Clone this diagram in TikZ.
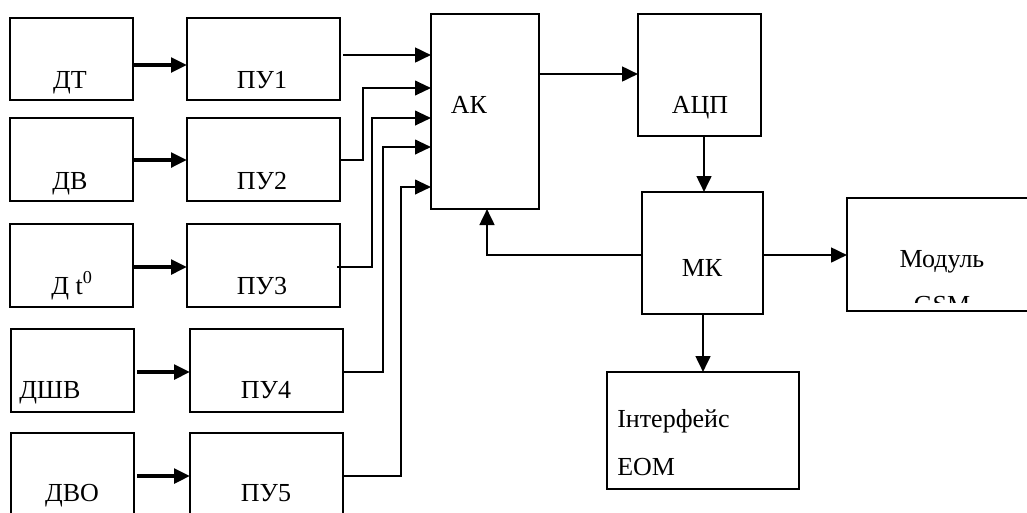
\documentclass[tikz,border=0pt]{standalone}
\usepackage{fontspec}
\setmainfont{Liberation Serif}
\usetikzlibrary{arrows.meta}
\begin{document}
\begin{tikzpicture}[x=0.75pt,y=-0.75pt,
  box/.style={draw,line width=1.8pt,inner sep=0pt,outer sep=0pt},
  lbl/.style={inner sep=0pt,font=\fontsize{19.5pt}{23pt}\selectfont},
  arr/.style={line width=2pt,-{Triangle[length=12pt,width=11pt]}},
  thick arr/.style={line width=2.6pt,-{Triangle[length=12pt,width=11pt]}},
  bent/.style={line width=1.5pt,-{Triangle[length=12pt,width=11pt]}}]
\clip (0,0) rectangle (1027,512);
\fill[white] (0,0) rectangle (1027,512);
% boxes
\node[box,minimum width=92.25pt,minimum height=61.5pt] (dt) at (71.5,59) {};
\node[box,minimum width=114.75pt,minimum height=61.5pt] (pu1) at (263.5,59) {};
\node[box,minimum width=92.25pt,minimum height=62.25pt] (dv) at (71.5,159.5) {};
\node[box,minimum width=114.75pt,minimum height=62.25pt] (pu2) at (263.5,159.5) {};
\node[box,minimum width=92.25pt,minimum height=62.25pt] (dt0) at (71.5,265.5) {};
\node[box,minimum width=114.75pt,minimum height=62.25pt] (pu3) at (263.5,265.5) {};
\node[box,minimum width=92.25pt,minimum height=62.25pt] (dshv) at (72.5,370.5) {};
\node[box,minimum width=114.75pt,minimum height=62.25pt] (pu4) at (266.5,370.5) {};
\node[box,minimum width=92.25pt,minimum height=72.75pt] (dvo) at (72.5,481.5) {};
\node[box,minimum width=114.75pt,minimum height=72.75pt] (pu5) at (266.5,481.5) {};
\node[box,minimum width=81pt,minimum height=146.25pt] (ak) at (485,111.5) {};
\node[box,minimum width=92.25pt,minimum height=91.5pt] (adc) at (699.5,75) {};
\node[box,minimum width=90.75pt,minimum height=91.5pt] (mk) at (702.5,253) {};
\node[box,minimum width=141pt,minimum height=84.75pt] (gsm) at (941,254.5) {};
\node[box,minimum width=144pt,minimum height=87.75pt] (iface) at (703,430.5) {};
% labels
\node[lbl,anchor=base] (tdt) at (70,88) {ДТ};
\node[lbl,anchor=base] (tpu1) at (262,88) {ПУ1};
\node[lbl,anchor=base] (tdv) at (70,189) {ДВ};
\node[lbl,anchor=base] (tpu2) at (262,189) {ПУ2};
\node[lbl,anchor=base] (tdt0) at (72,294) {Д t\textsuperscript{0}};
\node[lbl,anchor=base] (tpu3) at (262,294) {ПУ3};
\node[lbl,anchor=base west] (tdshv) at (19,398) {ДШВ};
\node[lbl,anchor=base] (tpu4) at (266,398) {ПУ4};
\node[lbl,anchor=base] (tdvo) at (72,501) {ДВО};
\node[lbl,anchor=base] (tpu5) at (266,501) {ПУ5};
\node[lbl,anchor=base] (tak) at (469,113) {АК};
\node[lbl,anchor=base] (tadc) at (700,113) {АЦП};
\node[lbl,anchor=base] (tmk) at (702,276) {МК};
\node[lbl,anchor=base] (tmod) at (942,267) {Модуль};
\begin{scope}
\clip (845,200) rectangle (1027,302);
\node[lbl,anchor=base] (tgsm) at (942,313) {GSM};
\end{scope}
\node[lbl,anchor=base west] (tif1) at (617,427) {Інтерфейс};
\node[lbl,anchor=base west] (tif2) at (617,475) {ЕОМ};
% connectors
\draw[thick arr] (dt.east |- 0,65) -- (pu1.west |- 0,65);
\draw[thick arr] (dv.east |- 0,160) -- (pu2.west |- 0,160);
\draw[thick arr] (dt0.east |- 0,267) -- (pu3.west |- 0,267);
\draw[thick arr] ([xshift=2.5pt]dshv.east |- 0,372) -- (pu4.west |- 0,372);
\draw[thick arr] ([xshift=2.5pt]dvo.east |- 0,476) -- (pu5.west |- 0,476);
\draw[arr] ([xshift=2.5pt]pu1.east |- 0,55) -- (ak.west |- 0,55);
\draw[bent] (pu2.east |- 0,160) -| (363,88) -- (ak.west |- 0,88);
\draw[bent] ([xshift=-2pt]pu3.east |- 0,267) -| (372,118) -- (ak.west |- 0,118);
\draw[bent] (pu4.east |- 0,372) -| (383,147) -- (ak.west |- 0,147);
\draw[bent] (pu5.east |- 0,476) -| (401,187) -- (ak.west |- 0,187);
\draw[arr] (ak.east |- 0,74) -- (adc.west |- 0,74);
\draw[arr] (adc.south -| 704,0) -- (mk.north -| 704,0);
\draw[arr] (mk.east |- 0,255) -- (gsm.west |- 0,255);
\draw[arr] (mk.west |- 0,255) -| (ak.south -| 487,0);
\draw[arr] (mk.south -| 703,0) -- (iface.north -| 703,0);
\end{tikzpicture}
\end{document}
